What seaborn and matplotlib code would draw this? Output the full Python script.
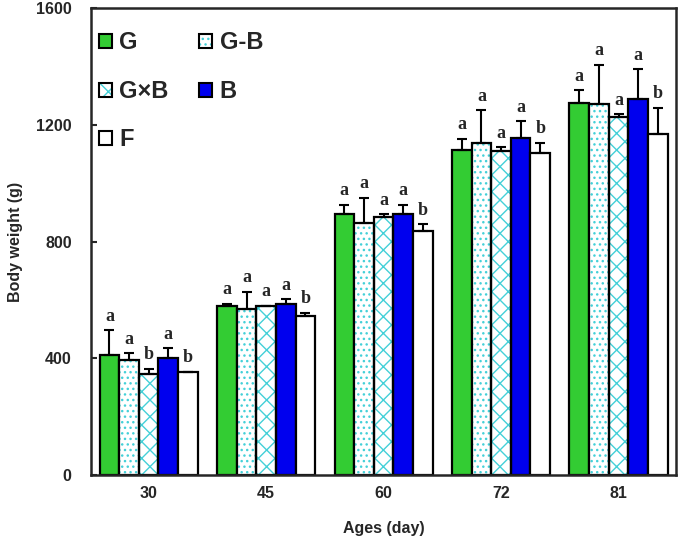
import matplotlib
matplotlib.use("Agg")
import matplotlib.pyplot as plt
import matplotlib.patches as mpatches
from matplotlib.legend_handler import HandlerTuple
import seaborn as sns
import pandas as pd

# data
ages = ["30", "45", "60", "72", "81"]
groups = ["G", "G-B", "G×B", "B", "F"]

w_G = [411, 579, 893, 1113, 1275]
w_GB = [393, 570, 864, 1138, 1270]
w_GxB = [348, 579, 885, 1112, 1228]
w_B = [402, 587, 894, 1155, 1289]
w_F = [352, 546, 837, 1102, 1170]

sd_G = [86, 8, 34, 40, 43]
sd_GB = [24, 58, 86, 112, 136]
sd_GxB = [17, 2, 9, 12, 8]
sd_B = [32, 15, 33, 58, 102]
sd_F = [2, 11, 22, 36, 88]

letters_G = ["a", "a", "a", "a", "a"]
letters_GB = ["a", "a", "a", "a", "a"]
letters_GxB = ["b", "a", "a", "a", "a"]
letters_B = ["a", "a", "a", "a", "a"]
letters_F = ["b", "b", "b", "b", "b"]

weights = [w_G, w_GB, w_GxB, w_B, w_F]
sds = [sd_G, sd_GB, sd_GxB, sd_B, sd_F]
letters = [letters_G, letters_GB, letters_GxB, letters_B, letters_F]

colors = ["#33cc33", "white", "white", "#0000ee", "white"]
hatches = [None, "...", "xx", None, None]
hatch_col = "#44d0d8"

rows = []
for g, vals in zip(groups, weights):
    for a, v in zip(ages, vals):
        rows.append({"age": a, "group": g, "weight": v})
df = pd.DataFrame(rows)

sns.set_style("ticks")
plt.rcParams["font.family"] = ["Liberation Sans", "DejaVu Sans"]
plt.rcParams["font.weight"] = "bold"
plt.rcParams["hatch.linewidth"] = 1.0

fig = plt.figure(figsize=(6.85, 5.43), dpi=100)
ax = fig.add_axes([0.133, 0.125, 0.854, 0.86])

sns.barplot(data=df, x="age", y="weight", hue="group", order=ages,
            hue_order=groups, palette=dict(zip(groups, colors)), saturation=1,
            errorbar=None, width=0.835, edgecolor="black", linewidth=1.6,
            legend=False, ax=ax)

for i, cont in enumerate(ax.containers[:5]):
    xs = [b.get_x() + b.get_width() / 2 for b in cont]
    hs = [b.get_height() for b in cont]
    bw = cont[0].get_width()
    if hatches[i]:
        for b in cont:
            b.set_facecolor("white")
            b.set_edgecolor(hatch_col)
            b.set_hatch(hatches[i])
            b.set_linewidth(0)
        # black outline on top of the hatched bars
        ax.bar(xs, hs, width=bw, fill=False, edgecolor="black", linewidth=1.6)
    ax.errorbar(xs, hs, yerr=[[0] * len(hs), sds[i]], fmt="none", ecolor="black",
                elinewidth=1.5, capsize=3.5, capthick=1.5, zorder=1)
    for x, h, s, lab in zip(xs, hs, sds[i], letters[i]):
        ax.annotate(lab, (x, h + s), xytext=(0, 4), textcoords="offset points",
                    ha="center", va="bottom", fontsize=13, fontweight="bold",
                    family="Liberation Serif")

ax.set_ylim(0, 1600)
ax.set_yticks([0, 400, 800, 1200, 1600])
ax.set_xlim(-0.49, 4.49)
ax.set_xlabel("Ages (day)", fontsize=11.5, fontweight="bold", labelpad=14)
ax.set_ylabel("Body weight (g)", fontsize=11.5, fontweight="bold", labelpad=9)
ax.tick_params(direction="in", length=4, width=1.5, labelsize=11.5)
ax.tick_params(axis="y", pad=14)
ax.tick_params(axis="x", pad=8)
for s in ax.spines.values():
    s.set_visible(True)
    s.set_linewidth(1.8)

handles = []
for c, h in zip(colors, hatches):
    if h:
        back = mpatches.Patch(facecolor="white", edgecolor=hatch_col, hatch=h, linewidth=0)
        front = mpatches.Patch(fill=False, edgecolor="black", linewidth=1.5)
        handles.append((back, front))
    else:
        handles.append(mpatches.Patch(facecolor=c, edgecolor="black", linewidth=1.5))

order = [0, 2, 4, 1, 3]
ax.legend([handles[k] for k in order], [groups[k] for k in order], ncol=2,
          loc="upper left", bbox_to_anchor=(0.014, 0.95), frameon=False,
          prop={"weight": "bold", "size": 17},
          handlelength=0.55, handleheight=0.55, handletextpad=0.3,
          labelspacing=1.08, columnspacing=1.3, borderaxespad=0, borderpad=0,
          handler_map={tuple: HandlerTuple(ndivide=1)})

fig.savefig("out.png", dpi=100)
